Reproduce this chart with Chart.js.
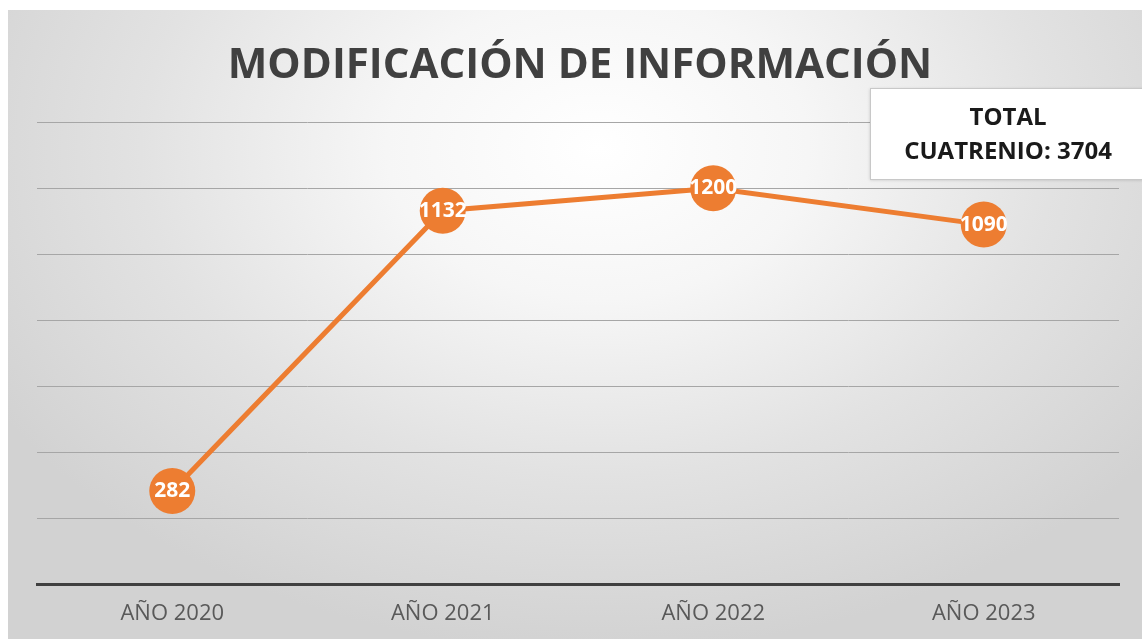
<!DOCTYPE html>
<html lang="es">
<head>
<meta charset="utf-8">
<title>Modificación de información</title>
<script src="https://cdn.jsdelivr.net/npm/chart.js@4.4.1/dist/chart.umd.min.js"></script>
<style>
  html, body { margin: 0; padding: 0; background: #ffffff; }
  #frame {
    position: absolute; left: 0; top: 0; width: 1142px; height: 639px;
    background: #ffffff; overflow: hidden;
  }
  #panel {
    position: absolute; left: 8px; top: 10px; right: 0; bottom: 0;
    background: radial-gradient(ellipse 62% 80% at 52% 22%, #ffffff 0%, #f6f6f6 30%, #e2e2e2 65%, #d2d2d2 100%);
  }
  #wrap { position: absolute; left: 0; top: 0; width: 1142px; height: 639px; }
</style>
</head>
<body>
<div id="frame">
  <div id="panel"></div>
  <div id="wrap"><canvas id="chart"></canvas></div>
</div>
<script>
// --- data ---
const categories = ['AÑO 2020', 'AÑO 2021', 'AÑO 2022', 'AÑO 2023'];
const modificaciones = [282, 1132, 1200, 1090];
const yTicks = [0, 200, 400, 600, 800, 1000, 1200, 1400];

const chartTitle = 'MODIFICACIÓN DE INFORMACIÓN';
const totalLines = ['TOTAL', 'CUATRENIO: ' + modificaciones.reduce((a, b) => a + b, 0)];

const ORANGE = '#ED7D31';
const FONT = "'Open Sans', 'Noto Sans', sans-serif";

// white value labels drawn on top of each point
const valueLabels = {
  id: 'valueLabels',
  afterDatasetsDraw(chart) {
    const ctx = chart.ctx;
    const meta = chart.getDatasetMeta(0);
    ctx.save();
    ctx.font = `bold 21px ${FONT}`;
    ctx.fillStyle = '#ffffff';
    ctx.textAlign = 'center';
    ctx.textBaseline = 'middle';
    meta.data.forEach((pt, i) => {
      ctx.fillText(String(modificaciones[i]), pt.x, pt.y);
    });
    ctx.restore();
  }
};

// the "TOTAL CUATRENIO" box in the top right corner
const totalBox = {
  id: 'totalBox',
  afterDraw(chart) {
    const ctx = chart.ctx;
    const x = 870, y = 88, w = 280, h = 91;
    ctx.save();
    ctx.shadowColor = 'rgba(0,0,0,0.18)';
    ctx.shadowBlur = 3;
    ctx.shadowOffsetY = 1;
    ctx.fillStyle = '#ffffff';
    ctx.fillRect(x, y, w, h);
    ctx.shadowColor = 'transparent';
    ctx.strokeStyle = '#c8c8c8';
    ctx.lineWidth = 1;
    ctx.strokeRect(x + 0.5, y + 0.5, w, h);
    ctx.fillStyle = '#1a1a1a';
    ctx.font = `bold 24px ${FONT}`;
    ctx.textAlign = 'center';
    ctx.textBaseline = 'middle';
    ctx.fillText(totalLines[0], 1008, 118);
    ctx.fillText(totalLines[1], 1008, 152);
    ctx.restore();
  }
};

const ctx = document.getElementById('chart').getContext('2d');
new Chart(ctx, {
  type: 'line',
  data: {
    labels: categories,
    datasets: [{
      label: 'Modificación de información',
      data: modificaciones,
      borderColor: ORANGE,
      borderWidth: 5,
      backgroundColor: ORANGE,
      pointBackgroundColor: ORANGE,
      pointBorderWidth: 0,
      pointRadius: 23,
      pointHoverRadius: 23,
      tension: 0,
      fill: false
    }]
  },
  options: {
    responsive: true,
    maintainAspectRatio: false,
    animation: false,
    layout: { padding: { left: 37, right: 19, top: 0, bottom: 0 } },
    plugins: {
      legend: { display: false },
      tooltip: { enabled: false },
      title: {
        display: true,
        text: chartTitle,
        color: '#404040',
        font: { family: FONT, size: 42, weight: 'bold' },
        padding: { top: 41, bottom: 31 }
      }
    },
    scales: {
      x: {
        offset: true,
        afterFit(axis) { axis.height = 55; },
        grid: { display: false, drawTicks: false },
        border: { display: true, color: '#404040', width: 3 },
        ticks: {
          color: '#595959',
          padding: 17,
          font: { family: FONT, size: 22 }
        }
      },
      y: {
        min: yTicks[0],
        max: yTicks[yTicks.length - 1],
        afterBuildTicks(axis) { axis.ticks = yTicks.map(v => ({ value: v })); },
        afterFit(axis) { axis.width = 0; },
        grid: { color: '#a6a6a6', lineWidth: 1, drawTicks: false },
        border: { display: false },
        ticks: { display: false }
      }
    }
  },
  plugins: [valueLabels, totalBox]
});
</script>
</body>
</html>
